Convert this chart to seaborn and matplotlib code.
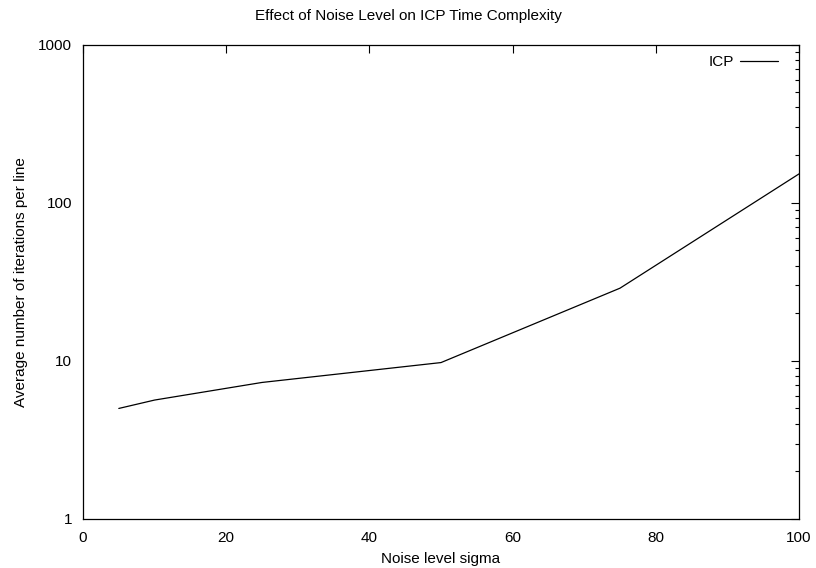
import pandas as pd
import matplotlib
matplotlib.use("Agg")
import matplotlib.pyplot as plt
import matplotlib.ticker as mticker
import seaborn as sns

# Data
noise_sigma = [5, 10, 25, 50, 75, 100]
icp_iterations = [5.0, 5.65, 7.3, 9.75, 28.8, 152]

df = pd.DataFrame({"sigma": noise_sigma, "iterations": icp_iterations, "method": "ICP"})

sns.set_style("white")
plt.rcParams["font.family"] = ["Liberation Sans", "DejaVu Sans"]
plt.rcParams["font.size"] = 11
plt.rcParams["text.color"] = "black"
plt.rcParams["axes.labelcolor"] = "black"

fig = plt.figure(figsize=(8.16, 5.68), dpi=100)
ax = fig.add_axes([83 / 816, 1 - 519 / 568, (799 - 83) / 816, (519 - 44.5) / 568])

sns.lineplot(data=df, x="sigma", y="iterations", hue="method", palette=["black"],
             linewidth=0.9, ax=ax)

ax.set_yscale("log")
ax.set_xlim(0, 100)
ax.set_ylim(1, 1000)
ax.set_xticks([0, 20, 40, 60, 80, 100])
ax.yaxis.set_major_locator(mticker.FixedLocator([1, 10, 100, 1000]))
ax.yaxis.set_major_formatter(mticker.FuncFormatter(lambda v, p: f"{v:g}"))
ax.yaxis.set_minor_locator(mticker.LogLocator(base=10, subs=range(2, 10)))
ax.yaxis.set_minor_formatter(mticker.NullFormatter())

ax.tick_params(which="both", direction="in", top=True, right=True, labelsize=11,
               color="black", labelcolor="black", width=0.8)
ax.tick_params(which="major", length=6)
ax.tick_params(which="minor", length=3)
ax.tick_params(axis="x", which="major", pad=9)
ax.tick_params(axis="y", which="major", pad=8)
for s in ax.spines.values():
    s.set_color("black")
    s.set_linewidth(0.9)

# gnuplot centres the title on the whole canvas
fig.suptitle("Effect of Noise Level on ICP Time Complexity", x=0.5, y=1 - 16 / 568,
             va="center", fontsize=11)
ax.set_xlabel("Noise level sigma", fontsize=11, labelpad=5)
ax.set_ylabel("Average number of iterations per line", fontsize=11, labelpad=7)

handles, labels = ax.get_legend_handles_labels()
ax.legend(handles, labels, loc="upper right", bbox_to_anchor=(0.979, 0.991),
          borderaxespad=0, frameon=False, markerfirst=False,
          fontsize=11, handlelength=2.5, handletextpad=0.4)

plt.savefig("out.png", dpi=100)
plt.close()
